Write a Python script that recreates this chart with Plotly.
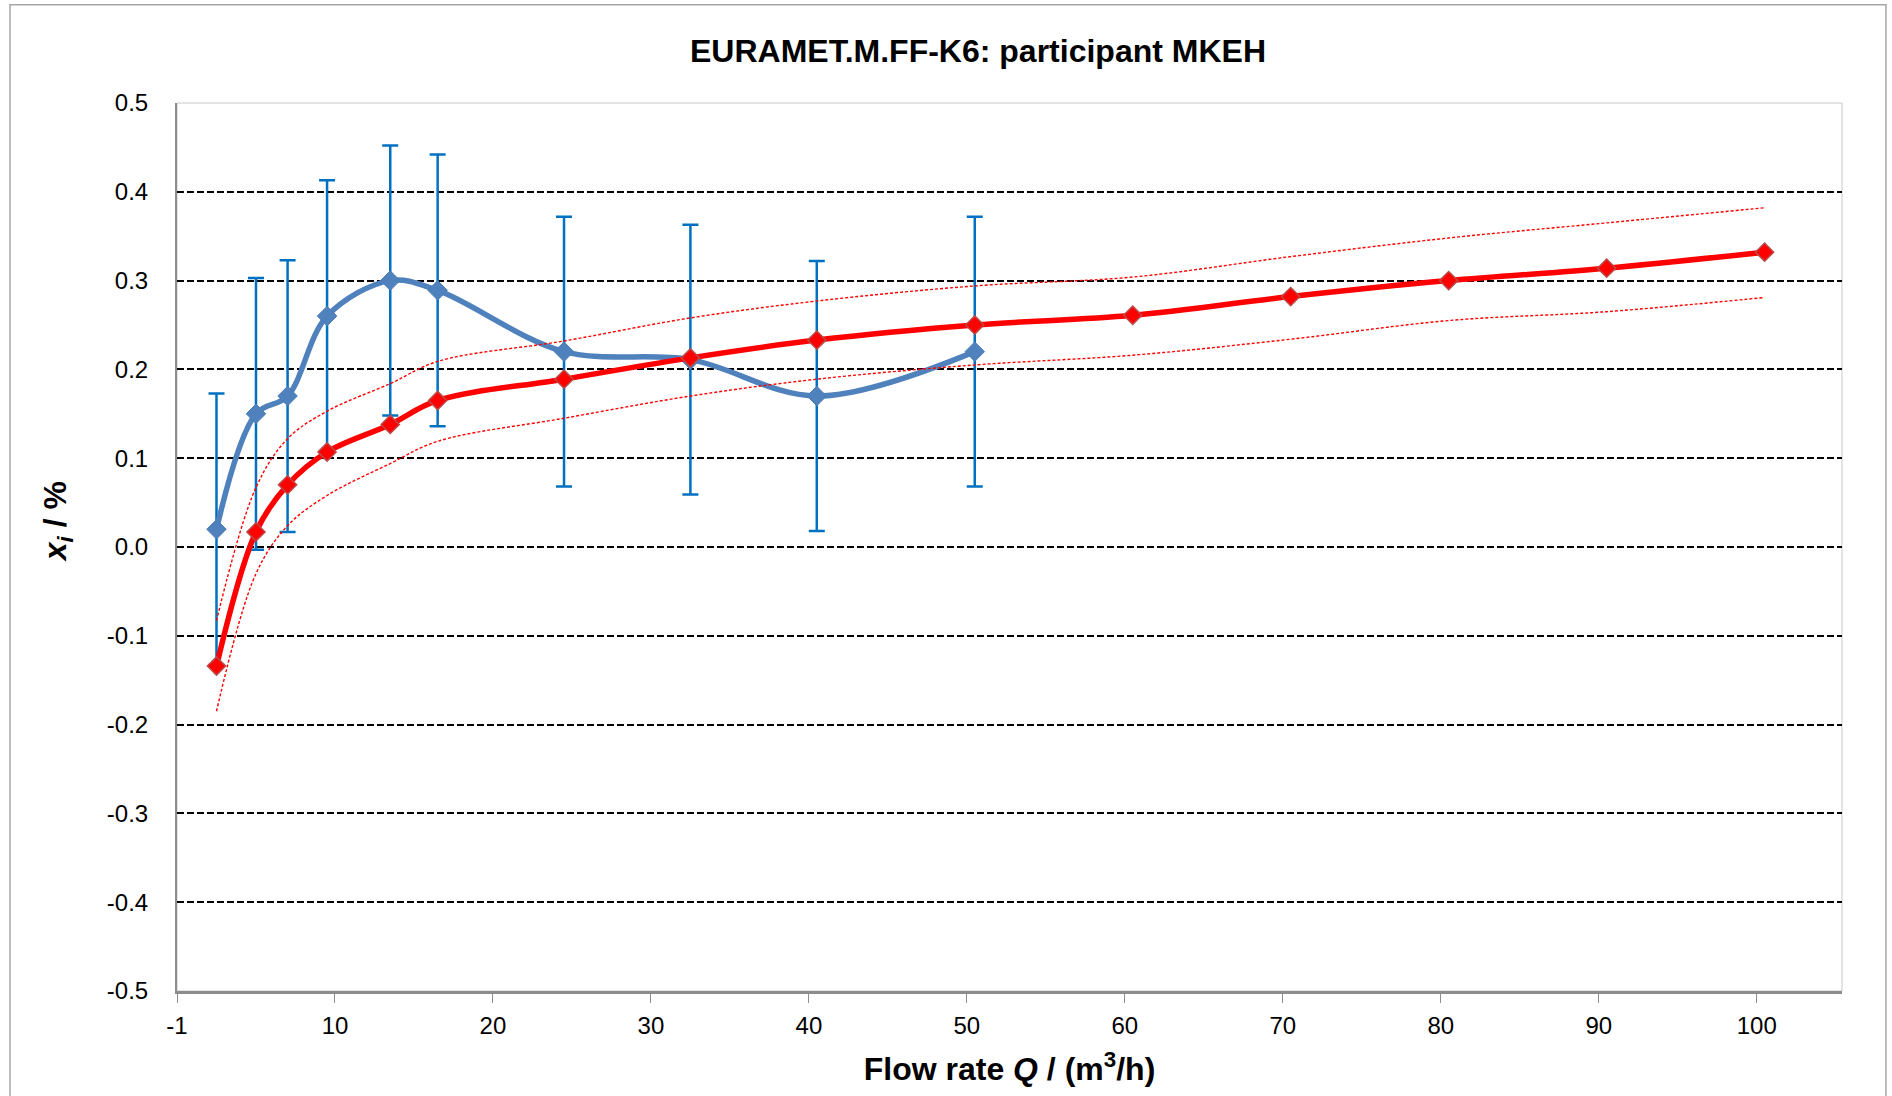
import plotly.graph_objects as go

# ---- data ----
q_kcrv = [2.5, 5, 7, 9.5, 13.5, 16.5, 24.5, 32.5, 40.5, 50.5, 60.5, 70.5, 80.5, 90.5, 100.5]
kcrv = [-0.134, 0.017, 0.070, 0.107, 0.138, 0.165, 0.189, 0.213, 0.233, 0.250, 0.261, 0.282, 0.300, 0.314, 0.332]
kcrv_upper = [-0.083, 0.067, 0.122, 0.153, 0.184, 0.209, 0.232, 0.258, 0.277, 0.294, 0.304, 0.327, 0.348, 0.365, 0.382]
kcrv_lower = [-0.185, -0.030, 0.024, 0.058, 0.094, 0.119, 0.145, 0.170, 0.189, 0.205, 0.216, 0.234, 0.255, 0.265, 0.281]

q_mkeh = [2.5, 5, 7, 9.5, 13.5, 16.5, 24.5, 32.5, 40.5, 50.5]
mkeh = [0.020, 0.150, 0.170, 0.260, 0.300, 0.289, 0.220, 0.211, 0.170, 0.220]
mkeh_unc = [0.153, 0.153, 0.153, 0.153, 0.152, 0.153, 0.152, 0.152, 0.152, 0.152]

x_tickvals = [0, 10, 20, 30, 40, 50, 60, 70, 80, 90, 100]
x_ticktext = ["-1", "10", "20", "30", "40", "50", "60", "70", "80", "90", "100"]
y_tickvals = [-0.5, -0.4, -0.3, -0.2, -0.1, 0.0, 0.1, 0.2, 0.3, 0.4, 0.5]
y_ticktext = ["-0.5", "-0.4", "-0.3", "-0.2", "-0.1", "0.0", "0.1", "0.2", "0.3", "0.4", "0.5"]

FONT = "Liberation Sans, Arial, sans-serif"

fig = go.Figure()

# MKEH results with error bars
fig.add_trace(go.Scatter(
    x=q_mkeh, y=mkeh, mode="lines+markers",
    line=dict(color="#4F81BD", width=5.5, shape="spline", smoothing=1),
    marker=dict(symbol="diamond", size=15, color="#4F81BD", line=dict(color="#4A7DBA", width=1)),
    error_y=dict(type="data", array=mkeh_unc, visible=True, color="#0070C0", thickness=2.5, width=8),
    showlegend=False,
))

# KCRV uncertainty band (dotted)
for band in (kcrv_upper, kcrv_lower):
    fig.add_trace(go.Scatter(
        x=q_kcrv, y=band, mode="lines",
        line=dict(color="#FF0000", width=1.4, dash="3px,2px", shape="spline", smoothing=1),
        showlegend=False,
    ))

# KCRV
fig.add_trace(go.Scatter(
    x=q_kcrv, y=kcrv, mode="lines+markers",
    line=dict(color="#FF0000", width=5.5, shape="spline", smoothing=1),
    marker=dict(symbol="diamond", size=14, color="#FF0000", line=dict(color="#B94A48", width=1.5)),
    showlegend=False,
))

fig.update_layout(
    width=1892, height=1096,
    margin=dict(l=177, r=50, t=103, b=105),
    paper_bgcolor="white", plot_bgcolor="white",
    font=dict(family=FONT, color="black"),
    title=dict(text="<b>EURAMET.M.FF-K6: participant MKEH</b>", x=978 / 1892, xanchor="center",
               y=1 - 51 / 1096, yanchor="middle", font=dict(size=32, family=FONT, color="black")),
    xaxis=dict(
        range=[0, 105.4], tickmode="array", tickvals=x_tickvals, ticktext=x_ticktext,
        showgrid=False, zeroline=False, showline=True, linecolor="#8C8C8C", linewidth=2.5,
        ticks="outside", ticklen=9, tickwidth=1, tickcolor="#8C8C8C",
        tickfont=dict(size=24, family=FONT, color="black"), ticklabelstandoff=2,
        title=dict(text="<b>Flow rate <i>Q</i> / (m<sup>3</sup>/h)</b>", font=dict(size=32, family=FONT, color="black"),
                   standoff=21),
    ),
    yaxis=dict(
        range=[-0.5, 0.5], tickmode="array", tickvals=y_tickvals, ticktext=y_ticktext,
        showgrid=True, gridcolor="black", gridwidth=1.7, griddash="7px,3px",
        zeroline=False, showline=True, linecolor="#8C8C8C", linewidth=2,
        ticks="", tickfont=dict(size=24, family=FONT, color="black"), ticklabelstandoff=22,
    ),
    annotations=[
        dict(text="<b><i>x<sub>i</sub></i> / %</b>", textangle=-90, xref="paper", yref="paper",
             x=-0.072, y=0.528, xanchor="center", yanchor="middle", showarrow=False,
             font=dict(size=32, family=FONT, color="black")),
    ],
    shapes=[
        # plot area border
        dict(type="rect", xref="paper", yref="paper", x0=0, x1=1, y0=0, y1=1,
             line=dict(color="#C8C8C8", width=1), layer="below"),
        # chart area border
        dict(type="rect", xref="paper", yref="paper", x0=-0.1003, x1=1.0264, y0=-0.14, y1=1.1106,
             line=dict(color="#A6A6A6", width=1.5), layer="below"),
    ],
)

fig.write_html("out.html", config={"displayModeBar": False},
               post_script="document.body.style.margin='0';document.body.style.overflow='hidden';")
